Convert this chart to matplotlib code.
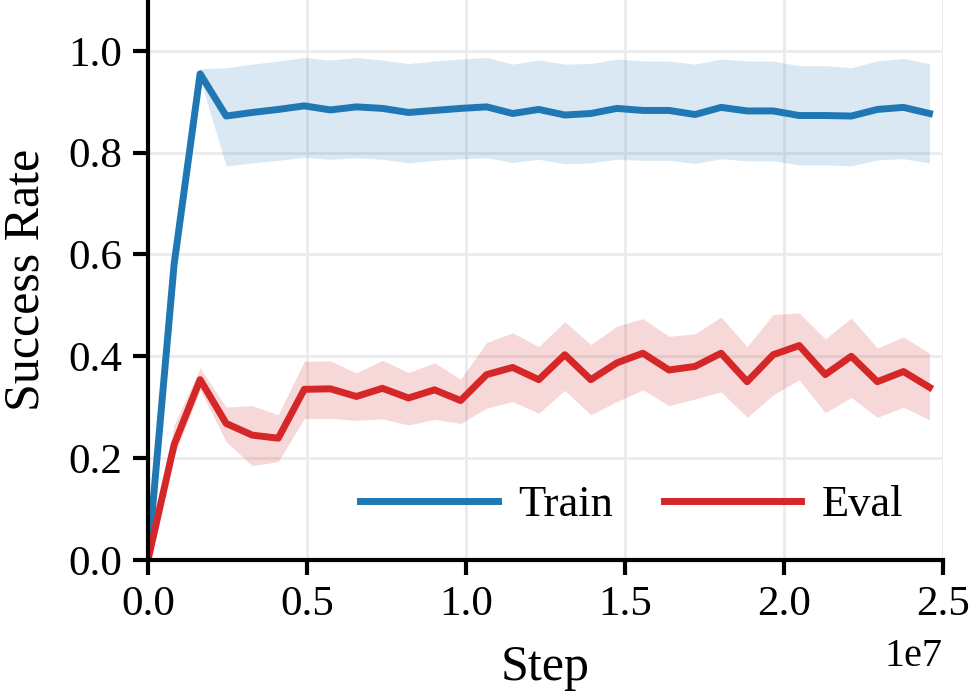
import matplotlib.pyplot as plt
import numpy as np

plt.rcParams['font.family'] = ['Liberation Serif', 'DejaVu Serif']
plt.rcParams['font.size'] = 31

# steps logged every 819200 env steps
steps = np.arange(31) * 819200

train_mean = [0.0, 0.58, 0.955, 0.872, 0.879, 0.885, 0.892, 0.884, 0.890, 0.887, 0.879,
              0.883, 0.887, 0.890, 0.877, 0.885, 0.874, 0.877, 0.887, 0.883, 0.883,
              0.875, 0.889, 0.882, 0.882, 0.873, 0.873, 0.872, 0.885, 0.889, 0.877]
train_hi = [0.0, 0.58, 0.965, 0.967, 0.974, 0.980, 0.987, 0.982, 0.987, 0.982, 0.975,
            0.980, 0.984, 0.987, 0.974, 0.982, 0.974, 0.975, 0.984, 0.980, 0.980,
            0.974, 0.984, 0.980, 0.980, 0.971, 0.971, 0.967, 0.980, 0.985, 0.975]
train_lo = [0.0, 0.58, 0.945, 0.774, 0.780, 0.785, 0.791, 0.787, 0.790, 0.787, 0.780,
            0.785, 0.788, 0.790, 0.781, 0.787, 0.778, 0.780, 0.787, 0.785, 0.785,
            0.779, 0.788, 0.784, 0.784, 0.776, 0.776, 0.774, 0.786, 0.788, 0.780]

eval_mean = [0.0, 0.226, 0.354, 0.268, 0.245, 0.239, 0.335, 0.336, 0.321, 0.337, 0.318,
             0.334, 0.313, 0.364, 0.378, 0.354, 0.403, 0.354, 0.387, 0.406, 0.373,
             0.380, 0.406, 0.350, 0.403, 0.421, 0.364, 0.400, 0.350, 0.370, 0.339]
eval_hi = [0.0, 0.265, 0.377, 0.300, 0.303, 0.285, 0.390, 0.391, 0.367, 0.392, 0.368,
           0.387, 0.355, 0.427, 0.446, 0.419, 0.468, 0.423, 0.459, 0.474, 0.439,
           0.444, 0.477, 0.419, 0.482, 0.485, 0.434, 0.475, 0.416, 0.438, 0.406]
eval_lo = [0.0, 0.203, 0.334, 0.232, 0.185, 0.193, 0.278, 0.278, 0.274, 0.277, 0.265,
           0.276, 0.268, 0.298, 0.311, 0.288, 0.333, 0.285, 0.311, 0.334, 0.303,
           0.316, 0.330, 0.280, 0.324, 0.354, 0.289, 0.319, 0.280, 0.300, 0.275]

fig = plt.figure(figsize=(9.7, 6.92), dpi=100)
ax = fig.add_axes([0.1526, 0.191, 0.8195, 0.809])

ax.fill_between(steps, train_lo, train_hi, color='tab:blue', alpha=0.17, linewidth=0)
ax.fill_between(steps, eval_lo, eval_hi, color='tab:red', alpha=0.18, linewidth=0)
ax.plot(steps, train_mean, color='tab:blue', lw=5, label='Train')
ax.plot(steps, eval_mean, color='tab:red', lw=5, label='Eval')

ax.set_xlim(0, 2.5e7)
ax.set_ylim(0, 1.1)
ax.set_yticks([0.0, 0.2, 0.4, 0.6, 0.8, 1.0])
ax.set_xticks([0, 0.5e7, 1.0e7, 1.5e7, 2.0e7, 2.5e7])
ax.grid(True, color='#ebebeb', lw=2)
ax.set_axisbelow(True)

for s in ['top', 'right']:
    ax.spines[s].set_visible(False)
for s in ['left', 'bottom']:
    ax.spines[s].set_linewidth(3)
ax.tick_params(width=3, length=10.5, pad=8)

ax.set_xlabel('Step', fontsize=36, labelpad=15)
ax.set_ylabel('Success Rate', fontsize=36, labelpad=14)

# push the "1e7" a little lower
ax.xaxis.OFFSETTEXTPAD = 10
ax.xaxis.get_offset_text().set_fontsize(29)

ax.legend(loc='lower right', ncol=2, frameon=False, fontsize=32, handlelength=3.1,
          handletextpad=0.45, columnspacing=1.15, bbox_to_anchor=(1.0, -0.01))

fig.savefig('out.png', dpi=100)
